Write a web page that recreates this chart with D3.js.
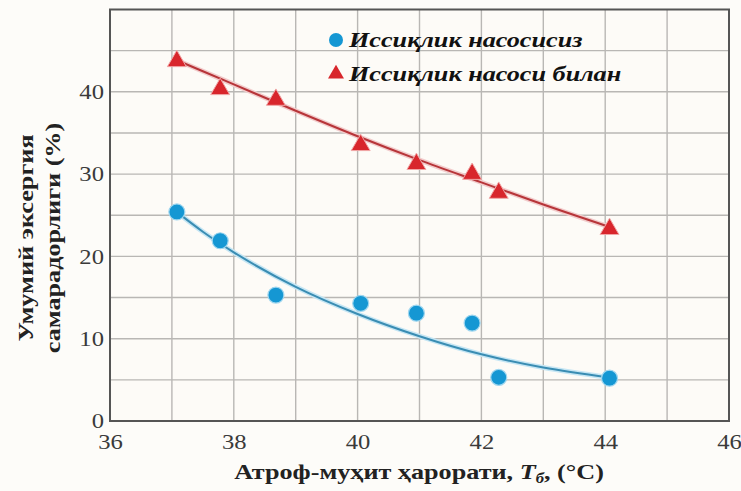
<!DOCTYPE html>
<html>
<head>
<meta charset="utf-8">
<script src="https://cdn.jsdelivr.net/npm/d3@7"></script>
<style>
  html, body { margin: 0; padding: 0; background: #fdfcf9; }
  svg { display: block; }
  svg text { font-family: "Liberation Serif", "Times New Roman", "DejaVu Serif", serif !important; }
</style>
</head>
<body>
<svg id="chart" width="741" height="491"></svg>
<script>
// Measured points: ambient temperature (°C) vs overall exergy efficiency (%)
const temps = [37.08, 37.78, 38.68, 40.05, 40.95, 41.85, 42.28, 44.07];
const withoutPump = [25.4, 21.9, 15.3, 14.3, 13.1, 11.9, 5.3, 5.2];
const withPump = [43.6, 40.2, 38.9, 33.4, 31.1, 29.9, 27.6, 23.2];

// Trend curves through each series
const fitTemps = [37.06, 37.5, 38, 39, 40, 41, 42, 43, 44.06];
const fitWithout = [25.5, 23.0, 20.5, 16.3, 13.0, 10.3, 8.1, 6.5, 5.3];
const fitWith = [43.9, 42.5, 40.9, 37.7, 34.6, 31.7, 29.0, 26.3, 23.6];

const xTicks = [36, 38, 40, 42, 44, 46];
const yTicks = [0, 10, 20, 30, 40];
const seriesNames = ["Иссиқлик насосисиз", "Иссиқлик насоси билан"];

const svg = d3.select("#chart");
const margin = { left: 110, right: 12, top: 9.5, bottom: 70 };
const W = 741, H = 491;

const x = d3.scaleLinear().domain([36, 46]).range([margin.left, W - margin.right]);
const y = d3.scaleLinear().domain([0, 50]).range([H - margin.bottom, margin.top]);

const blue = "#1597d3", red = "#d8262c";
const wide = 1.19; // lettering is set horizontally expanded

// plot background
svg.append("rect")
  .attr("x", x(36)).attr("y", y(50))
  .attr("width", x(46) - x(36)).attr("height", y(0) - y(50))
  .attr("fill", "#fdfbf7");

// grid: every 1 °C and every 5 %
const grid = svg.append("g").attr("stroke", "#b9b7b4").attr("stroke-width", 1.4);
grid.selectAll("line.v").data(d3.range(37, 46)).join("line")
  .attr("x1", d => x(d)).attr("x2", d => x(d))
  .attr("y1", y(0)).attr("y2", y(50));
grid.selectAll("line.h").data(d3.range(5, 50, 5)).join("line")
  .attr("x1", x(36)).attr("x2", x(46))
  .attr("y1", d => y(d)).attr("y2", d => y(d));

// axes
const xAxis = d3.axisBottom(x).tickValues(xTicks).tickSize(0).tickPadding(10);
const yAxis = d3.axisLeft(y).tickValues(yTicks).tickSize(0).tickPadding(6);

const gx = svg.append("g").attr("transform", `translate(0,${y(0)})`).call(xAxis);
const gy = svg.append("g").attr("transform", `translate(${x(36)},0)`).call(yAxis);
[gx, gy].forEach(g => {
  g.select(".domain").remove();
  g.selectAll("text").attr("font-size", 22).attr("fill", "#3a3a3a")
    .attr("transform", "scale(1.12,1)");
});
gy.selectAll("text").attr("dy", "0.3em").attr("x", -6 / 1.12);
gx.selectAll("text").attr("dy", "0.8em");

// frame
svg.append("rect")
  .attr("x", x(36)).attr("y", y(50))
  .attr("width", x(46) - x(36)).attr("height", y(0) - y(50))
  .attr("fill", "none").attr("stroke", "#555").attr("stroke-width", 2);

// trend curves
const line = d3.line().x(d => x(d[0])).y(d => y(d[1])).curve(d3.curveMonotoneX);
const curves = [
  { vals: fitWithout, color: "#3a8db3", halo: "#c6e6f4" },
  { vals: fitWith, color: "#b73539", halo: "#f2cccc" }
];
curves.forEach(c => {
  const pts = fitTemps.map((t, i) => [t, c.vals[i]]);
  svg.append("path").datum(pts).attr("d", line)
    .attr("fill", "none").attr("stroke", c.halo).attr("stroke-width", 5);
  svg.append("path").datum(pts).attr("d", line)
    .attr("fill", "none").attr("stroke", c.color).attr("stroke-width", 2);
});

// markers
const tri = d3.symbol().type(d3.symbolTriangle).size(155);
svg.append("g").selectAll("circle")
  .data(temps.map((t, i) => [t, withoutPump[i]])).join("circle")
  .attr("cx", d => x(d[0])).attr("cy", d => y(d[1])).attr("r", 8)
  .attr("fill", blue).attr("stroke", "#9fd6ef").attr("stroke-width", 1.2);
svg.append("g").selectAll("path")
  .data(temps.map((t, i) => [t, withPump[i]])).join("path")
  .attr("d", tri)
  .attr("transform", d => `translate(${x(d[0])},${y(d[1]) - 1})`)
  .attr("fill", red).attr("stroke", "#f0a7a7").attr("stroke-width", 1);

// legend
const legend = svg.append("g");
legend.append("circle").attr("cx", 336).attr("cy", 40).attr("r", 7).attr("fill", blue);
legend.append("path").attr("d", d3.symbol().type(d3.symbolTriangle).size(110))
  .attr("transform", "translate(336,74)").attr("fill", red);
legend.selectAll("g.item").data(seriesNames).join("g")
  .attr("transform", (d, i) => `translate(349,${47 + i * 34}) scale(${wide},1)`)
  .append("text")
  .attr("font-size", 22)
  .attr("font-style", "italic").attr("font-weight", "bold").attr("fill", "#111")
  .text(d => d);

// axis titles
const xt = svg.append("g")
  .attr("transform", `translate(419,479) scale(${wide},1)`)
  .append("text").attr("text-anchor", "middle")
  .attr("font-size", 22).attr("font-weight", "bold")
  .attr("fill", "#222");
xt.append("tspan").text("Атроф-муҳит ҳарорати, ");
xt.append("tspan").attr("font-style", "italic").text("T");
xt.append("tspan").attr("font-style", "italic").attr("font-size", 14).attr("dy", 4).text("б");
xt.append("tspan").attr("dy", -4).text(", (°C)");

const yt = svg.append("g")
  .attr("transform", `translate(0,238) rotate(-90) scale(${wide},1)`)
  .append("text").attr("text-anchor", "middle")
  .attr("font-size", 22).attr("font-weight", "bold")
  .attr("fill", "#222");
yt.append("tspan").attr("x", 0).attr("y", 33).text("Умумий эксергия");
yt.append("tspan").attr("x", 0).attr("y", 60).text("самарадорлиги (%)");
</script>
</body>
</html>
